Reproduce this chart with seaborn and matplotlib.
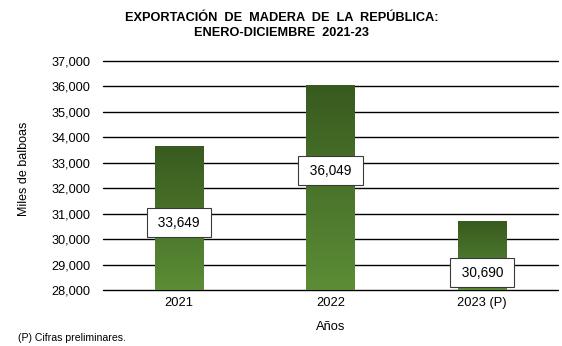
import numpy as np
import pandas as pd
import matplotlib
matplotlib.use("Agg")
import matplotlib.pyplot as plt
import seaborn as sns
from matplotlib.colors import LinearSegmentedColormap

categories = ["2021", "2022", "2023 (P)"]
values = [33649, 36049, 30690]
label_texts = ["33,649", "36,049", "30,690"]
yticks = [28000, 29000, 30000, 31000, 32000, 33000, 34000, 35000, 36000, 37000]

sns.set_theme(style="white")
plt.rcParams['font.family'] = ['Liberation Sans', 'DejaVu Sans']
plt.rcParams['text.color'] = 'black'
plt.rcParams['xtick.color'] = 'black'
plt.rcParams['ytick.color'] = 'black'
plt.rcParams['axes.labelcolor'] = 'black'

df = pd.DataFrame({"Año": categories, "Valor": values})

fig = plt.figure(figsize=(5.62, 3.46), dpi=100)
ax = fig.add_axes([103/562, 1-290/346, (558-103)/562, (290-61)/346])

sns.barplot(data=df, x="Año", y="Valor", ax=ax, width=0.32, color="#4e7a2a",
            edgecolor="none", zorder=3)

ymin = 28000
ax.set_xlim(-0.5, 2.5)
ax.set_ylim(ymin, 37000)
ax.set_yticks(yticks)
ax.set_yticklabels([f"{t:,}" for t in yticks], fontsize=9.2)
ax.tick_params(axis='x', labelsize=9.3, length=0, pad=5)
ax.tick_params(axis='y', length=0, pad=9)
for t in yticks:
    ax.axhline(t, color="black", lw=1, zorder=1, clip_on=False)
for s in ax.spines.values():
    s.set_visible(False)

cmap = LinearSegmentedColormap.from_list("g", ["#5c8d36", "#385a1f"])
grad = np.linspace(0, 1, 256).reshape(-1, 1)
for p in ax.patches:
    x0, w = p.get_x(), p.get_width()
    top = p.get_y() + p.get_height()
    ax.imshow(grad, cmap=cmap, aspect='auto', origin='lower',
              extent=[x0, x0 + w, ymin, top], zorder=4)
    p.set_facecolor("none")
ax.set_xlim(-0.5, 2.5)
ax.set_ylim(ymin, 37000)

label_y = [30640, 32680, 28670]
for i, (txt, ly) in enumerate(zip(label_texts, label_y)):
    ax.text(i, ly, " " + txt + " ", ha="center", va="center", fontsize=9.8, zorder=6,
            bbox=dict(boxstyle="square,pad=0.55", fc="white", ec="#3a3a3a", lw=0.8))

ax.set_xlabel("Años", fontsize=9.3, labelpad=9)
ax.set_ylabel("Miles de balboas", fontsize=9)
ax.yaxis.set_label_coords(-0.16, 0.53)

fig.text(0.501, 0.965, "EXPORTACIÓN  DE  MADERA  DE  LA  REPÚBLICA:\nENERO-DICIEMBRE  2021-23",
         ha="center", va="top", fontsize=9.2, fontweight="bold", linespacing=1.3)
fig.text(18/562, 1-338/346, "(P) Cifras preliminares.", fontsize=7.6, va="center")

fig.savefig("out.png", dpi=100)
